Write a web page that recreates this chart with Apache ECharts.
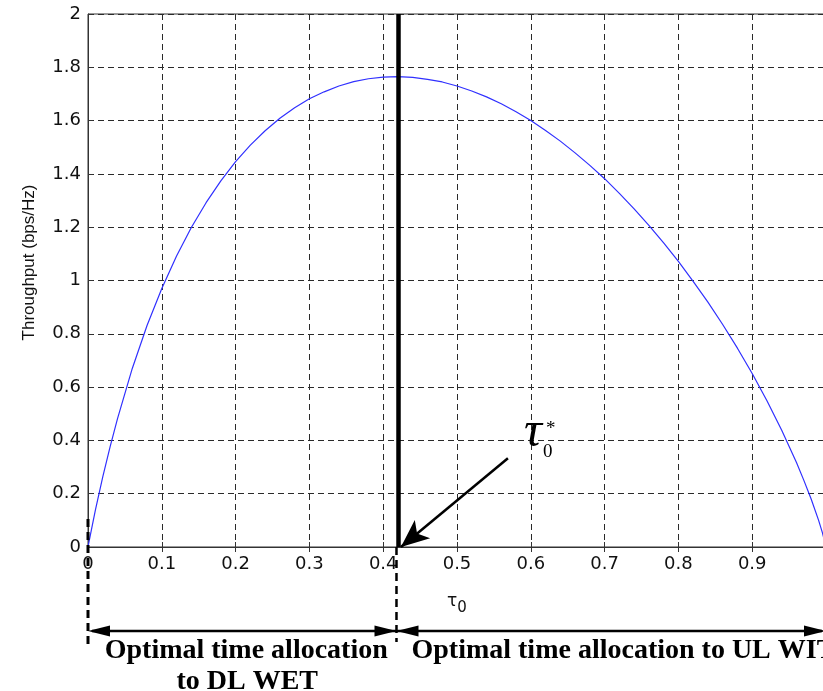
<!DOCTYPE html>
<html>
<head>
<meta charset="utf-8">
<script src="https://cdn.jsdelivr.net/npm/echarts@6/dist/echarts.min.js"></script>
<style>
html,body{margin:0;padding:0;background:#fff;}
#chart{width:823px;height:691px;}
</style>
</head>
<body>
<div id="chart"></div>
<script>
// ---- data ----
const tau = [0, 0.005, 0.01, 0.02, 0.03, 0.04, 0.06, 0.08, 0.10, 0.12, 0.14, 0.16, 0.18, 0.20,
  0.22, 0.24, 0.26, 0.28, 0.30, 0.32, 0.34, 0.36, 0.38, 0.40, 0.42, 0.44, 0.46, 0.48, 0.50,
  0.52, 0.54, 0.56, 0.58, 0.60, 0.62, 0.64, 0.66, 0.68, 0.70, 0.72, 0.74, 0.76, 0.78, 0.80,
  0.82, 0.84, 0.86, 0.88, 0.90, 0.92, 0.94, 0.96, 0.97, 0.98, 0.99, 0.995, 1.0];
const throughput = [0, 0.070, 0.138, 0.263, 0.377, 0.482, 0.670, 0.831, 0.970, 1.092, 1.199, 1.292, 1.374, 1.446,
  1.508, 1.562, 1.609, 1.648, 1.682, 1.708, 1.730, 1.746, 1.757, 1.763, 1.765, 1.762, 1.755, 1.745, 1.730,
  1.711, 1.689, 1.663, 1.633, 1.600, 1.563, 1.523, 1.479, 1.432, 1.382, 1.327, 1.269, 1.207, 1.141, 1.072,
  0.997, 0.919, 0.835, 0.746, 0.651, 0.549, 0.438, 0.317, 0.250, 0.179, 0.100, 0.055, 0];
const xTicks = [0, 0.1, 0.2, 0.3, 0.4, 0.5, 0.6, 0.7, 0.8, 0.9, 1];
const yTicks = [0, 0.2, 0.4, 0.6, 0.8, 1, 1.2, 1.4, 1.6, 1.8, 2];
const optimalTau = 0.418;
const pointerFrom = [0.569, 0.333];
const pointerTo = [0.424, 0];
const xAxisTitle = ['τ', '0'];
const yAxisTitle = 'Throughput (bps/Hz)';
const regionLeft = ['Optimal time allocation', 'to DL WET'];
const regionRight = 'Optimal time allocation to UL WIT';

// ---- chart ----
const chart = echarts.init(document.getElementById('chart'), null, {renderer: 'canvas'});
const tickFont = 'DejaVu Sans';
const axisColor = '#333';
const gridLine = {show: true, lineStyle: {color: '#2a2a2a', type: [6, 4], width: 1}};

chart.setOption({
  animation: false,
  backgroundColor: '#fff',
  grid: {left: 88, top: 14, width: 738, bottom: 144, outerBoundsMode: 'none', containLabel: false,
    show: true, borderColor: axisColor, borderWidth: 1},
  xAxis: [{
    type: 'value', min: xTicks[0], max: xTicks[xTicks.length - 1], interval: 0.1,
    name: '{t|' + xAxisTitle[0] + '}{s|' + xAxisTitle[1] + '}',
    nameLocation: 'middle', nameGap: 40,
    nameTextStyle: {rich: {
      t: {fontFamily: tickFont, fontSize: 17, color: '#111'},
      s: {fontFamily: tickFont, fontSize: 15, color: '#111', padding: [14, 0, 0, 0]}
    }},
    axisLine: {show: true, onZero: false, lineStyle: {color: axisColor, width: 1}},
    axisTick: {show: true, inside: true, length: 5, lineStyle: {color: axisColor}},
    axisLabel: {fontFamily: tickFont, fontSize: 18, color: '#111', margin: 8, showMaxLabel: false},
    splitLine: gridLine
  }, {
    type: 'value', position: 'top', min: xTicks[0], max: xTicks[xTicks.length - 1], interval: 0.1,
    axisLine: {show: false},
    axisTick: {show: true, inside: true, length: 5, lineStyle: {color: axisColor}},
    axisLabel: {show: false}, splitLine: {show: false}
  }],
  yAxis: {
    type: 'value', min: yTicks[0], max: yTicks[yTicks.length - 1], interval: 0.2,
    name: yAxisTitle, nameLocation: 'middle', nameGap: 50, nameRotate: 90,
    nameTextStyle: {fontFamily: 'Liberation Sans', fontSize: 17, color: '#111', padding: [0, 0, 0, 36]},
    axisLine: {show: true, onZero: false, lineStyle: {color: axisColor, width: 1}},
    axisTick: {show: true, inside: true, length: 5, lineStyle: {color: axisColor}},
    axisLabel: {fontFamily: tickFont, fontSize: 18, color: '#111', margin: 7},
    splitLine: gridLine
  },
  series: [{
    type: 'line',
    data: tau.map((t, i) => [t, throughput[i]]),
    showSymbol: false,
    lineStyle: {color: '#3030ff', width: 1.2},
    z: 3,
    markLine: {
      silent: true, animation: false, symbol: ['none', 'none'], label: {show: false},
      data: [
        {xAxis: optimalTau, lineStyle: {color: '#000', width: 4.5, type: 'solid'}},
        [
          {coord: pointerFrom, symbol: 'none', lineStyle: {color: '#000', width: 2.5, type: 'solid'}},
          {coord: pointerTo, symbol: 'arrow', symbolSize: [18, 28]}
        ]
      ]
    }
  }]
});

// ---- annotations below the axis, positioned from the axis scale ----
function px(v) { return chart.convertToPixel({gridIndex: 0}, v); }
const p0 = px([0, 0]);
const pOpt = px([optimalTau, 0]);
const p1 = px([1, 0]);
const pFrom = px(pointerFrom);
const baseY = p0[1];
const arrowY = baseY + 84;
const headL = 22, headW = 5.5;

function tri(tipX, y, dir) {
  return {type: 'polygon', shape: {points: [[tipX, y], [tipX - dir * headL, y - headW], [tipX - dir * headL, y + headW]]},
    style: {fill: '#000'}, z: 10};
}
const serifBold = 'bold 28px "Liberation Serif", "Times New Roman", serif';
const graphics = [
  {type: 'line', shape: {x1: p0[0], y1: baseY - 28, x2: p0[0], y2: baseY + 97},
    style: {stroke: '#000', lineWidth: 3, lineDash: [8, 5]}, z: 10},
  {type: 'line', shape: {x1: pOpt[0], y1: baseY, x2: pOpt[0], y2: baseY + 95},
    style: {stroke: '#000', lineWidth: 2.5, lineDash: [8, 5]}, z: 10},
  {type: 'line', shape: {x1: p0[0] + 4, y1: arrowY, x2: p1[0] - 4, y2: arrowY},
    style: {stroke: '#000', lineWidth: 2.5}, z: 10},
  tri(p0[0], arrowY, -1),
  tri(pOpt[0], arrowY, 1),
  tri(pOpt[0], arrowY, -1),
  tri(p1[0], arrowY, 1),
  {type: 'text', x: (p0[0] + pOpt[0]) / 2 + 4, y: baseY + 104,
    style: {text: regionLeft[0], font: serifBold, fill: '#000', align: 'center', verticalAlign: 'middle'}, z: 10},
  {type: 'text', x: (p0[0] + pOpt[0]) / 2 + 5, y: baseY + 135,
    style: {text: regionLeft[1], font: serifBold, fill: '#000', align: 'center', verticalAlign: 'middle'}, z: 10},
  {type: 'text', x: pOpt[0] + 15, y: baseY + 104,
    style: {text: regionRight, font: serifBold, fill: '#000', align: 'left', verticalAlign: 'middle'}, z: 10},
  {type: 'text', x: pFrom[0] + 16, y: pFrom[1] - 25,
    style: {text: 'τ', font: 'italic 50px "Liberation Serif", serif', fill: '#000', align: 'left', verticalAlign: 'middle'}, z: 10},
  {type: 'text', x: pFrom[0] + 35, y: pFrom[1] - 6,
    style: {text: '0', font: '19px "Liberation Serif", serif', fill: '#000', align: 'left', verticalAlign: 'middle'}, z: 10},
  {type: 'text', x: pFrom[0] + 38, y: pFrom[1] - 29,
    style: {text: '*', font: '19px "Liberation Serif", serif', fill: '#000', align: 'left', verticalAlign: 'middle'}, z: 10}
];
chart.setOption({graphic: graphics});
</script>
</body>
</html>
